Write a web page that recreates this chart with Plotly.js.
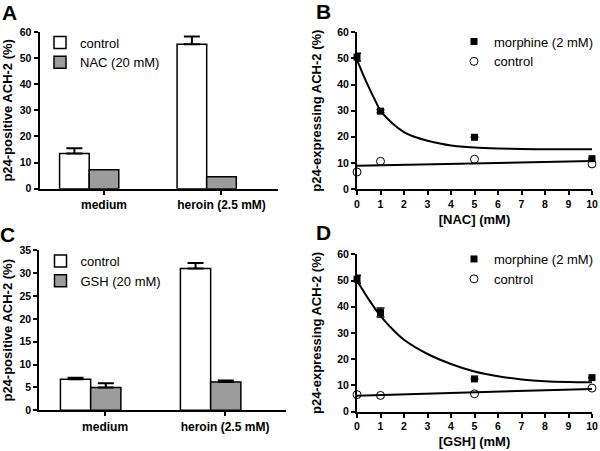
<!DOCTYPE html>
<html><head><meta charset="utf-8">
<script src="https://cdn.plot.ly/plotly-3.0.1.min.js"></script>
<style>html,body{margin:0;padding:0;background:#fff}#chart{width:600px;height:451px}</style>
</head><body><div id="chart"></div>
<script>
// ---------- data ----------
// Panels A and C (bar charts)
const barCategories = ['medium', 'heroin (2.5 mM)'];
const aControl = [13.5, 55.3];
const aControlErr = [2.0, 3.0];
const aNAC = [7.3, 4.6];
const cControl = [6.8, 31.0];
const cControlErr = [0.3, 1.2];
const cGSH = [5.0, 6.2];
const cGSHErr = [0.9, 0.3];
// Panels B and D (dose response)
const concX = [0, 1, 5, 10];
const bMorphine = [50.5, 29.8, 19.8, 11.6];
const bMorphineErr = [1.5, 0.5, 0, 0];
const bControl = [6.5, 10.6, 11.4, 9.6];
const bFitX = [0, 0.25, 0.5, 0.75, 1, 1.5, 2, 2.5, 3, 4, 5, 6, 7, 8, 10];
const bFitMorphine = [49.4, 44.0, 39.0, 34.3, 30.0, 25.2, 21.8, 19.8, 18.5, 16.7, 15.9, 15.5, 15.3, 15.2, 15.2];
const lineX = [0, 10];
const bFitControl = [8.9, 10.7];
const dMorphine = [50.5, 37.8, 12.5, 13.0];
const dMorphineErr = [1.5, 1.7, 0, 0];
const dControl = [6.5, 6.2, 6.8, 9.0];
const dFitX = [0, 0.5, 1, 1.5, 2, 3, 4, 5, 6, 7, 8, 9, 10];
const dFitMorphine = [50.0, 42.8, 36.5, 31.5, 27.4, 22.0, 18.2, 15.3, 13.5, 12.3, 11.6, 11.3, 11.2];
const dFitControl = [6.1, 8.7];

// ---------- styles ----------
const FONT = 'Arial, "Liberation Sans", sans-serif';
const GRAY = '#9c9c9c';
const zeros = n => new Array(n).fill(0);

function barErr(arr) {
  return {type: 'data', array: arr, arrayminus: zeros(arr.length), symmetric: false,
          visible: true, color: '#000', thickness: 2, width: 8};
}
function ptErr(arr) {
  return {type: 'data', array: arr, visible: true, color: '#000', thickness: 1.5, width: 4};
}
const BW = 0.252;

const traces = [
  // A
  {type: 'bar', x: barCategories, y: aControl, name: 'control', xaxis: 'x', yaxis: 'y',
   width: BW, offset: -0.378, marker: {color: '#fff', line: {color: '#000', width: 1.5}},
   error_y: barErr(aControlErr), legend: 'legend'},
  {type: 'bar', x: barCategories, y: aNAC, name: 'NAC (20 mM)', xaxis: 'x', yaxis: 'y',
   width: BW, offset: -0.126, marker: {color: GRAY, line: {color: '#000', width: 1.5}},
   legend: 'legend'},
  // C
  {type: 'bar', x: barCategories, y: cControl, name: 'control', xaxis: 'x3', yaxis: 'y3',
   width: BW, offset: -0.372, marker: {color: '#fff', line: {color: '#000', width: 1.5}},
   error_y: barErr(cControlErr), legend: 'legend3'},
  {type: 'bar', x: barCategories, y: cGSH, name: 'GSH (20 mM)', xaxis: 'x3', yaxis: 'y3',
   width: BW, offset: -0.12, marker: {color: GRAY, line: {color: '#000', width: 1.5}},
   error_y: barErr(cGSHErr), legend: 'legend3'},
  // B
  {type: 'scatter', mode: 'lines', x: bFitX, y: bFitMorphine, xaxis: 'x2', yaxis: 'y2',
   line: {color: '#000', width: 2, shape: 'spline', smoothing: 0.8}, showlegend: false, hoverinfo: 'skip'},
  {type: 'scatter', mode: 'lines', x: lineX, y: bFitControl, xaxis: 'x2', yaxis: 'y2',
   line: {color: '#000', width: 2}, showlegend: false, hoverinfo: 'skip'},
  {type: 'scatter', mode: 'markers', x: concX, y: bMorphine, name: 'morphine (2 mM)', xaxis: 'x2', yaxis: 'y2',
   marker: {symbol: 'square', size: 7, color: '#000'}, error_y: ptErr(bMorphineErr), cliponaxis: false, legend: 'legend2'},
  {type: 'scatter', mode: 'markers', x: concX, y: bControl, name: 'control', xaxis: 'x2', yaxis: 'y2',
   marker: {symbol: 'circle-open', size: 8, color: '#000', line: {width: 1}}, cliponaxis: false, legend: 'legend2'},
  // D
  {type: 'scatter', mode: 'lines', x: dFitX, y: dFitMorphine, xaxis: 'x4', yaxis: 'y4',
   line: {color: '#000', width: 2, shape: 'spline', smoothing: 0.8}, showlegend: false, hoverinfo: 'skip'},
  {type: 'scatter', mode: 'lines', x: lineX, y: dFitControl, xaxis: 'x4', yaxis: 'y4',
   line: {color: '#000', width: 2}, showlegend: false, hoverinfo: 'skip'},
  {type: 'scatter', mode: 'markers', x: concX, y: dMorphine, name: 'morphine (2 mM)', xaxis: 'x4', yaxis: 'y4',
   marker: {symbol: 'square', size: 7, color: '#000'}, error_y: ptErr(dMorphineErr), cliponaxis: false, legend: 'legend4'},
  {type: 'scatter', mode: 'markers', x: concX, y: dControl, name: 'control', xaxis: 'x4', yaxis: 'y4',
   marker: {symbol: 'circle-open', size: 8, color: '#000', line: {width: 1}}, cliponaxis: false, legend: 'legend4'}
];

const W = 600, H = 451;
const px = v => v / W;
const py = v => (H - v) / H;

function axBase(extra) {
  return Object.assign({
    showline: true, linecolor: '#000', linewidth: 2, showgrid: false, zeroline: false,
    ticks: 'outside', ticklen: 4, tickwidth: 2, tickcolor: '#000',
    tickfont: {family: FONT, size: 10.5, color: '#000', weight: 700},
    fixedrange: true
  }, extra);
}
function ttl(text, standoff) {
  return {text: text, standoff: standoff, font: {family: FONT, size: 13, color: '#000', weight: 700}};
}
function leg(x, y) {
  return {x: x, y: y, xanchor: 'left', yanchor: 'top', bgcolor: 'rgba(0,0,0,0)', borderwidth: 0,
          font: {family: FONT, size: 13, color: '#000'}};
}
function letter(t, x, y) {
  return {text: t, x: px(x), y: py(y), xref: 'paper', yref: 'paper', showarrow: false,
          xanchor: 'center', yanchor: 'middle', font: {family: FONT, size: 21, color: '#000', weight: 700}};
}

const catFont = {family: FONT, size: 12, color: '#000', weight: 700};

const layout = {
  width: W, height: H, margin: {l: 0, r: 0, t: 0, b: 0, pad: 0},
  paper_bgcolor: '#fff', plot_bgcolor: 'rgba(0,0,0,0)',
  showlegend: true, barmode: 'overlay',
  font: {family: FONT, color: '#000'},
  xaxis: axBase({domain: [px(39.5), px(278)], anchor: 'y', type: 'category',
                 range: [-0.549, 1.481], tickfont: catFont}),
  yaxis: axBase({domain: [py(188.7), py(32)], anchor: 'x', range: [0, 60], dtick: 10,
                 title: ttl('p24-positive ACH-2 (%)', 9)}),
  xaxis2: axBase({domain: [px(357), px(592)], anchor: 'y2', range: [0, 10], dtick: 1,
                  title: ttl('[NAC] (mM)', 6)}),
  yaxis2: axBase({domain: [py(189), py(32.3)], anchor: 'x2', range: [0, 60], dtick: 10,
                  title: ttl('p24-expressing ACH-2 (%)', 13)}),
  xaxis3: axBase({domain: [px(39.3), px(286)], anchor: 'y3', type: 'category',
                  range: [-0.548, 1.508], tickfont: catFont}),
  yaxis3: axBase({domain: [py(410.3), py(250.3)], anchor: 'x3', range: [0, 35], dtick: 5,
                  title: ttl('p24-positive ACH-2 (%)', 9)}),
  xaxis4: axBase({domain: [px(357), px(592)], anchor: 'y4', range: [0, 10], dtick: 1,
                  title: ttl('[GSH] (mM)', 6)}),
  yaxis4: axBase({domain: [py(411.7), py(254.3)], anchor: 'x4', range: [0, 60], dtick: 10,
                  title: ttl('p24-expressing ACH-2 (%)', 13)}),
  legend: leg(px(40), py(27.5)),
  legend2: leg(px(454), py(26.5)),
  legend3: leg(px(40.5), py(246)),
  legend4: leg(px(454), py(244)),
  annotations: [letter('A', 9.5, 13), letter('B', 323, 11), letter('C', 7.5, 234.5), letter('D', 323, 232.5)]
};

Plotly.newPlot('chart', traces, layout, {staticPlot: true, displayModeBar: false});
</script>
</body></html>
